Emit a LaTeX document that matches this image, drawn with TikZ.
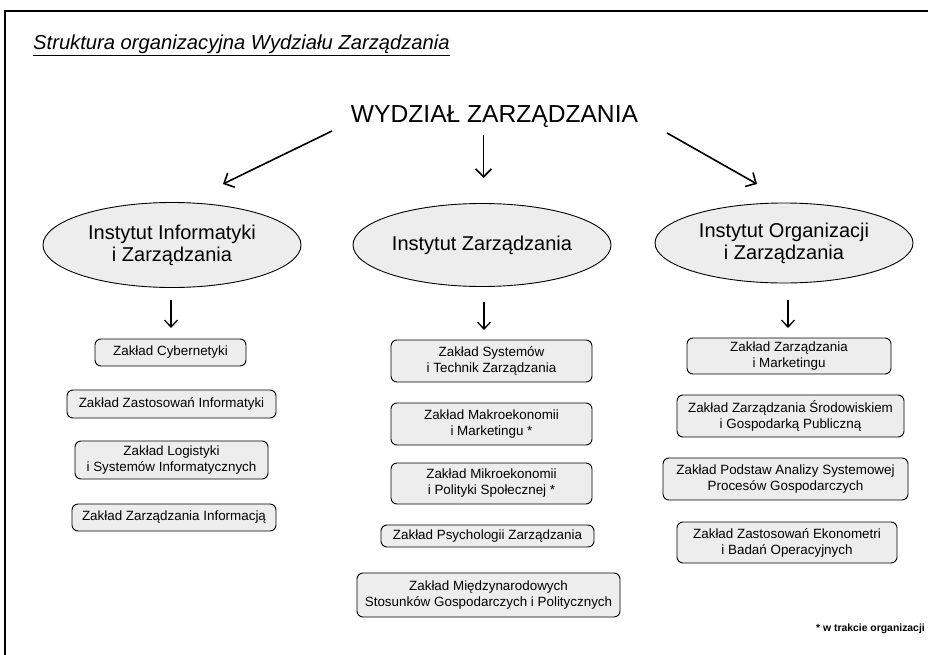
\documentclass[tikz,border=0pt]{standalone}
\usepackage{fontspec}
\setmainfont{Liberation Sans}
\usetikzlibrary{arrows.meta,shapes.geometric}
\definecolor{boxfill}{HTML}{EDEDED}
\begin{document}
\begin{tikzpicture}[x=1pt,y=-1pt,
  zbox/.style={draw=black, line width=0.9pt, fill=boxfill, rounded corners=6pt, align=center, inner sep=0pt, font=\fontsize{13.4}{16}\selectfont},
  inst/.style={ellipse, draw=black, line width=0.9pt, fill=boxfill, align=center, inner sep=0pt, font=\fontsize{20}{22}\selectfont},
  bigarrow/.style={-{Straight Barb[length=8pt,width=16pt,line width=1.6pt]}, line width=1.6pt},
  smallarrow/.style={-{Straight Barb[length=7pt,width=13pt,line width=1.3pt]}, line width=1.3pt}]
\useasboundingbox (0,0) rectangle (928,655);
\fill[white] (0,0) rectangle (928,655);
% frame
\draw[line width=1.2pt] (928,11) -- (5,11) -- (5,655);
% title
\node[anchor=base west, inner sep=0pt, font=\fontsize{20.2}{24}\selectfont\itshape] (title) at (33,50) {\underline{Struktura organizacyjna Wydziału Zarządzania}};
% faculty
\node[anchor=base, inner sep=0pt, font=\fontsize{24.6}{28}\selectfont] (wydz) at (494.5,123) {WYDZIAŁ ZARZĄDZANIA};
% institutes
\node[inst, minimum width=258pt, minimum height=85pt] (iiz) at (172,245) {Instytut Informatyki\\i Zarządzania};
\node[inst, minimum width=258pt, minimum height=83pt] (iz) at (482,245) {Instytut Zarządzania};
\node[inst, minimum width=258pt, minimum height=80pt] (ioz) at (784,243) {Instytut Organizacji\\i Zarządzania};
% big arrows
\coordinate (a1s) at (332,131);
\coordinate (a1e) at (223,184);
\coordinate (a2s) at (483.5,135);
\coordinate (a2e) at (483.5,178);
\coordinate (a3s) at (667,133);
\coordinate (a3e) at (757,184);
\draw[bigarrow] (a1s) -- (a1e);
\draw[bigarrow] (a2s) -- (a2e);
\draw[bigarrow] (a3s) -- (a3e);
% small arrows
\coordinate (b1s) at (171,300);
\coordinate (b1e) at (171,328);
\coordinate (b2s) at (484,302);
\coordinate (b2e) at (484,330);
\coordinate (b3s) at (788,300);
\coordinate (b3e) at (788,328);
\draw[smallarrow] (b1s) -- (b1e);
\draw[smallarrow] (b2s) -- (b2e);
\draw[smallarrow] (b3s) -- (b3e);
% left column
\node[zbox, minimum width=151pt, minimum height=27pt] (l1) at (170.5,352.5) {Zakład Cybernetyki};
\node[zbox, minimum width=209pt, minimum height=28pt] (l2) at (171.5,404) {Zakład Zastosowań Informatyki};
\node[zbox, minimum width=193pt, minimum height=38pt] (l3) at (171.5,460) {Zakład Logistyki\\i Systemów Informatycznych};
\node[zbox, minimum width=204pt, minimum height=27pt] (l4) at (174,517.5) {Zakład Zarządzania Informacją};
% middle column
\node[zbox, minimum width=201pt, minimum height=42pt] (m1) at (491.5,361) {Zakład Systemów\\i Technik Zarządzania};
\node[zbox, minimum width=201pt, minimum height=42pt] (m2) at (491.5,424) {Zakład Makroekonomii\\i Marketingu *};
\node[zbox, minimum width=201pt, minimum height=41pt] (m3) at (491.5,483.5) {Zakład Mikroekonomii\\i Polityki Społecznej *};
\node[zbox, minimum width=213pt, minimum height=22pt] (m4) at (487.5,536) {Zakład Psychologii Zarządzania};
\node[zbox, minimum width=263pt, minimum height=44pt] (m5) at (488.5,595) {Zakład Międzynarodowych\\Stosunków Gospodarczych i Politycznych};
% right column
\node[zbox, minimum width=204pt, minimum height=36pt] (r1) at (789,356) {Zakład Zarządzania\\i Marketingu};
\node[zbox, minimum width=227pt, minimum height=42pt] (r2) at (790.5,416) {Zakład Zarządzania Środowiskiem\\i Gospodarką Publiczną};
\node[zbox, minimum width=245pt, minimum height=42pt] (r3) at (785.5,479) {Zakład Podstaw Analizy Systemowej\\Procesów Gospodarczych};
\node[zbox, minimum width=220pt, minimum height=41pt] (r4) at (787,542.5) {Zakład Zastosowań Ekonometri\\i Badań Operacyjnych};
% footnote
\node[anchor=base east, inner sep=0pt, font=\fontsize{10.4}{12}\selectfont\bfseries] (note) at (925,631) {* w trakcie organizacji};
\end{tikzpicture}
\end{document}
